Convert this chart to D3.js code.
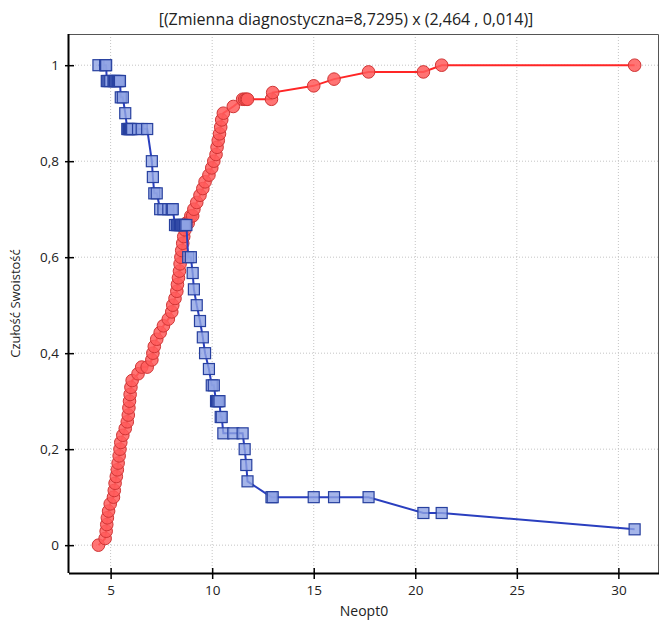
<!DOCTYPE html>
<html>
<head>
<meta charset="utf-8">
<script src="https://cdn.jsdelivr.net/npm/d3@7"></script>
<style>
  body { margin: 0; background: #fff; }
  text { font-family: "Open Sans", "Noto Sans", sans-serif; fill: #222; }
</style>
</head>
<body>
<div id="chart"></div>
<script>
const W = 661, H = 626;
const margin = {top: 34, right: 2, bottom: 53, left: 69};

const title = "[(Zmienna diagnostyczna=8,7295) x (2,464 , 0,014)]";
const xLabel = "Neopt0";
const yLabel = "Czułość Swoistość";

const xTicks = [5, 10, 15, 20, 25, 30];
const yTicks = [0, 0.2, 0.4, 0.6, 0.8, 1];

// cut-off values (shared by both series)
const cutoffs = [
  4.40, 4.73, 4.78, 4.81, 4.84, 4.90, 4.98, 5.14, 5.18, 5.22,
  5.28, 5.33, 5.37, 5.42, 5.46, 5.50, 5.60, 5.72, 5.82, 5.87,
  5.90, 5.93, 5.96, 6.00, 6.06, 6.35, 6.53, 6.80, 7.03, 7.08,
  7.15, 7.27, 7.44, 7.60, 7.84, 8.01, 8.06, 8.17, 8.26, 8.29,
  8.34, 8.39, 8.42, 8.46, 8.50, 8.55, 8.60, 8.66, 8.73, 8.82,
  8.95, 9.04, 9.10, 9.24, 9.40, 9.54, 9.65, 9.84, 9.98, 10.08,
  10.19, 10.24, 10.30, 10.36, 10.42, 10.47, 10.55, 11.04, 11.50, 11.60,
  11.68, 11.74, 12.92, 12.98, 15.0, 16.0, 17.7, 20.4, 21.3, 30.8
];

// red circles
const czulosc = [
  0, .014, .029, .043, .057, .071, .086, .1, .114, .129,
  .143, .157, .171, .186, .2, .214, .229, .243, .257, .271,
  .286, .3, .314, .329, .343, .357, .371, .371, .386, .4,
  .414, .429, .443, .457, .471, .486, .5, .514, .529, .543,
  .557, .571, .586, .6, .614, .629, .643, .657, .671, .671,
  .686, .686, .7, .714, .729, .743, .757, .771, .786, .8,
  .814, .829, .843, .857, .871, .886, .9, .914, .929, .929,
  .929, .929, .929, .943, .957, .971, .986, .986, 1, 1
];

// blue squares
const swoistosc = [
  1, 1, 1, .967, .967, .967, .967, .967, .967, .967,
  .967, .967, .967, .967, .967, .933, .933, .9, .867, .867,
  .867, .867, .867, .867, .867, .867, .867, .867, .8, .767,
  .733, .733, .7, .7, .7, .7, .7, .667, .667, .667,
  .667, .667, .667, .667, .667, .667, .667, .667, .667, .6,
  .6, .567, .533, .5, .467, .433, .4, .367, .333, .333,
  .3, .3, .3, .3, .267, .267, .233, .233, .233, .2,
  .167, .133, .1, .1, .1, .1, .1, .067, .067, .033
];

const svg = d3.select('#chart')
  .append('svg')
  .attr('width', W)
  .attr('height', H);

const x = d3.scaleLinear()
  .domain([3, 32])
  .range([margin.left + 1, W - margin.right]);

const y = d3.scaleLinear()
  .domain([-0.058, 1.065])
  .range([H - margin.bottom, margin.top]);

const pl = d3.formatLocale({decimal: ",", thousands: " ", grouping: [3], currency: ["", ""]});
const fmt = pl.format("~g");

const x0 = margin.left, x1 = W - margin.right;
const y0 = H - margin.bottom, y1 = margin.top;

// grid
svg.append("g")
  .selectAll("line")
  .data(xTicks)
  .join("line")
  .attr("x1", d => x(d)).attr("x2", d => x(d))
  .attr("y1", y1).attr("y2", y0)
  .attr("stroke", "#c4c4c4")
  .attr("stroke-dasharray", "1,2");

svg.append("g")
  .selectAll("line")
  .data(yTicks)
  .join("line")
  .attr("x1", x0).attr("x2", x1)
  .attr("y1", d => y(d)).attr("y2", d => y(d))
  .attr("stroke", "#c4c4c4")
  .attr("stroke-dasharray", "1,2");

// frame top/right
svg.append("path")
  .attr("d", `M${x0},${y1 + 0.5}H${x1 - 0.5}V${y0}`)
  .attr("fill", "none")
  .attr("stroke", "#555")
  .attr("stroke-width", 1);

// axes
svg.append("g")
  .attr("transform", `translate(0,${y0})`)
  .call(d3.axisBottom(x).tickValues(xTicks).tickSize(6).tickSizeOuter(0).tickPadding(6))
  .call(g => g.select(".domain").attr("d", `M${x0},0.5H${x1}`).attr("stroke", "#000").attr("stroke-width", 2))
  .call(g => g.selectAll(".tick line").attr("y1", -5).attr("y2", 6).attr("stroke-width", 1.5))
  .call(g => g.selectAll("text").attr("font-size", 13.5).attr("font-family", "Open Sans").attr("fill", "#222"));

svg.append("g")
  .attr("transform", `translate(${x0},0)`)
  .call(d3.axisLeft(y).tickValues(yTicks).tickFormat(fmt).tickSize(6).tickSizeOuter(0).tickPadding(4))
  .call(g => g.select(".domain").attr("d", `M-0.5,${y1}V${y0}`).attr("stroke", "#000").attr("stroke-width", 2))
  .call(g => g.selectAll(".tick line").attr("x1", -4).attr("x2", 5).attr("stroke-width", 1.5))
  .call(g => g.selectAll("text").attr("font-size", 13.5).attr("font-family", "Open Sans").attr("fill", "#222"));

// labels
svg.append("text")
  .attr("x", 346).attr("y", 25)
  .attr("text-anchor", "middle")
  .attr("font-size", 16)
  .text(title);

svg.append("text")
  .attr("x", (x0 + x1) / 2).attr("y", 616)
  .attr("text-anchor", "middle")
  .attr("font-size", 14)
  .text(xLabel);

svg.append("text")
  .attr("transform", `translate(20,${(y0 + y1) / 2}) rotate(-90)`)
  .attr("text-anchor", "middle")
  .attr("font-size", 13)
  .text(yLabel);

const redPts = cutoffs.map((c, i) => [c, czulosc[i]]);
const bluePts = cutoffs.map((c, i) => [c, swoistosc[i]]);

const line = d3.line().x(d => x(d[0])).y(d => y(d[1]));

// red series
svg.append("path")
  .datum(redPts)
  .attr("d", line)
  .attr("fill", "none")
  .attr("stroke", "#ff2626")
  .attr("stroke-width", 2);

svg.append("g")
  .selectAll("circle")
  .data(redPts)
  .join("circle")
  .attr("cx", d => x(d[0]))
  .attr("cy", d => y(d[1]))
  .attr("r", 6.3)
  .attr("fill", "#ff5c5c")
  .attr("fill-opacity", 0.85)
  .attr("stroke", "#d03535")
  .attr("stroke-width", 1);

// blue series
svg.append("path")
  .datum(bluePts)
  .attr("d", line)
  .attr("fill", "none")
  .attr("stroke", "#2a3fbf")
  .attr("stroke-width", 2);

svg.append("g")
  .selectAll("rect")
  .data(bluePts)
  .join("rect")
  .attr("x", d => x(d[0]) - 5.5)
  .attr("y", d => y(d[1]) - 5.5)
  .attr("width", 11)
  .attr("height", 11)
  .attr("fill", "#8ea2e4")
  .attr("fill-opacity", 0.8)
  .attr("stroke", "#27409f")
  .attr("stroke-width", 1.2);
</script>
</body>
</html>
